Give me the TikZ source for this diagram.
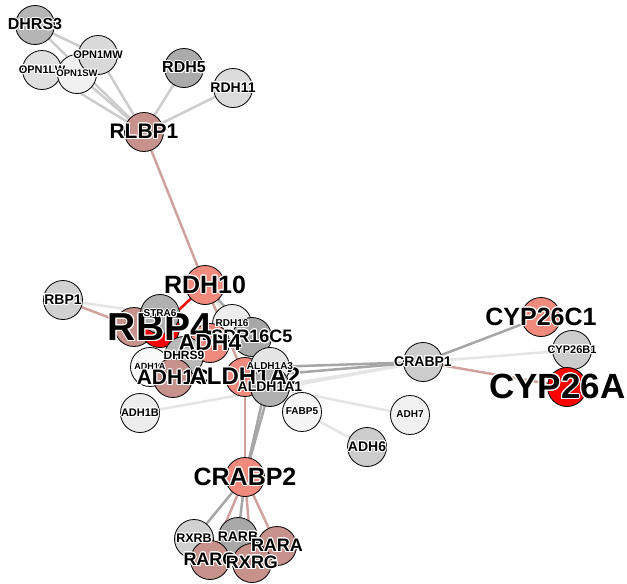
\documentclass[tikz,border=0pt]{standalone}
\usepackage{fontspec}
\setmainfont{Liberation Sans}
\usepackage{contour}
\contourlength{1pt}
\pgfdeclarelayer{background}
\pgfsetlayers{background,main}
\definecolor{salmon}{HTML}{F08A7C}
\definecolor{rosy}{HTML}{C8928C}
\definecolor{hitred}{HTML}{FF0000}
\tikzset{
  gene/.style={circle, draw=black, line width=0.8pt, minimum size=39pt, inner sep=0pt, fill=#1},
  glabel/.style={font=\bfseries\fontsize{#1}{#1}\selectfont, inner sep=0pt},
  lite/.style={draw=black!10, line width=2.5pt},
  pale/.style={draw=black!20, line width=2.5pt},
  grey/.style={draw=black!35, line width=2.5pt},
  rose/.style={draw=rosy!85, line width=2.5pt},
  hot/.style={draw=hitred, line width=2.5pt}
}
% name/x/y/fill/label size, in drawing order
\def\genes{DHRS3/35/25/black!29/16, OPN1LW/42/70/black!12/11, OPN1SW/77/74/black!6/9.5,
  OPN1MW/98/55/black!15/11, RDH5/184/68/black!33/16, RDH11/233/88/black!14/14,
  RLBP1/144/132/rosy/21, RDH10/205/285/salmon/25, RBP1/63/300/black!18/14,
  RBP4/160/328/hitred/39, STRA6/160/314/black!31/10,
  RDH16/232/324/black!7/10, SDR16C5/252/337/black!34/18, ADH4/210/343/salmon/23,
  DHRS9/184/356/black!28/12, ADH1A/150/367/black!2/9, ADH1C/173/378/rosy/21,
  ALDH1A2/245/377/salmon/24, ALDH1A3/270/367/black!10/10, ALDH1A1/270/387/black!31/14,
  ADH1B/140/413/black!7/11, FABP5/302/412/black!4/10, ADH6/367/447/black!20/14,
  ADH7/410/415/black!6/10, CRABP1/423/362/black!20/14, CYP26C1/541/317/salmon/25,
  CYP26B1/572/350/black!20/11, CYP26A1/567/387/hitred/35, CRABP2/245/477/salmon/25,
  RXRB/194/539/black!18/12.5, RARB/238/537/black!34/14, RARA/277/546/rosy/18,
  RARG/210/560/rosy/18, RXRG/252/563/rosy/18}

\begin{document}
\begin{tikzpicture}[x=1pt, y=-1pt]
\useasboundingbox (0,0) rectangle (627,584);

% node whose label is hidden under RBP4
\node[gene=rosy] (hidden) at (134,327) {};

\foreach \n/\x/\y/\c/\s in \genes
  \node[gene=\c] (\n) at (\x,\y) {};

\foreach \n/\x/\y/\c/\s in \genes
  \node[glabel=\s] (\n-t) at (\n) {\contour{white}{\n}};

\begin{pgfonlayer}{background}
\foreach \a/\b in {RLBP1/DHRS3, RLBP1/OPN1LW, RLBP1/OPN1SW, RLBP1/OPN1MW, DHRS3/OPN1MW,
  RLBP1/RDH11, RLBP1/RDH5}
  \draw[pale] (\a.center) -- (\b.center);
\foreach \a/\b in {RBP1/STRA6, ADH1B/CRABP1, ALDH1A1/ADH7, FABP5/ADH6, CRABP1/CYP26B1,
  ALDH1A1/CRABP1, RDH16/RDH10}
  \draw[lite] (\a.center) -- (\b.center);
\foreach \a/\b in {RDH10/SDR16C5, ALDH1A3/CRABP1, ALDH1A2/CRABP1, CRABP1/CYP26C1,
  CRABP2/ALDH1A1, CRABP2/ALDH1A3, CRABP2/RXRB, CRABP2/RARB}
  \draw[grey] (\a.center) -- (\b.center);
\foreach \a/\b in {RLBP1/RDH10, RBP1/hidden, CRABP1/CYP26A1, CRABP2/ALDH1A2,
  CRABP2/RARG, CRABP2/RXRG, CRABP2/RARA, RDH10/ALDH1A2}
  \draw[rose] (\a.center) -- (\b.center);
\draw[hot] (RDH10.center) -- (RBP4.center);
\end{pgfonlayer}
\end{tikzpicture}
\end{document}
